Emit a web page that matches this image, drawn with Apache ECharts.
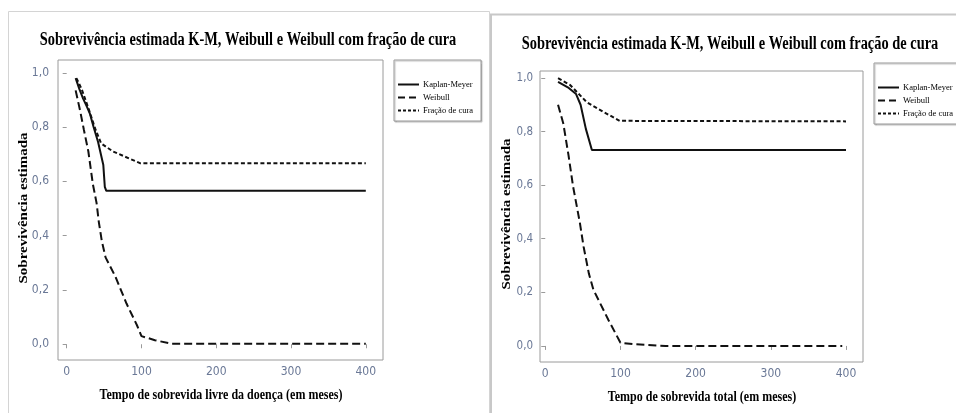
<!DOCTYPE html>
<html>
<head>
<meta charset="utf-8">
<script src="https://cdn.jsdelivr.net/npm/echarts@6/dist/echarts.min.js"></script>
<style>html,body{margin:0;padding:0;background:#fff}#c{width:956px;height:413px}</style>
</head>
<body>
<div id="c"></div>
<script>
// ---- data ----
const titleText = 'Sobrevivência estimada K-M, Weibull e Weibull com fração de cura';
const yName = 'Sobrevivência estimada';
const xNameLeft = 'Tempo de sobrevida livre da doença (em meses)';
const xNameRight = 'Tempo de sobrevida total (em meses)';
const seriesNames = ['Kaplan-Meyer', 'Weibull', 'Fração de cura'];
const xTicks = [0, 100, 200, 300, 400];
const yTicks = [0, 0.2, 0.4, 0.6, 0.8, 1.0];

// Left panel: disease-free survival
const dfsKaplanMeyer = [[12,0.98],[17,0.94],[22,0.905],[27,0.875],[31,0.85],[36,0.80],[42,0.745],[49,0.66],[51,0.58],[53,0.565],[400,0.565]];
const dfsWeibull = [[12,0.935],[18,0.86],[23,0.79],[29,0.71],[35,0.59],[40,0.52],[43,0.45],[47,0.38],[52,0.32],[65,0.25],[80,0.15],[94,0.07],[100,0.03],[118,0.015],[140,0.002],[400,0.002]];
const dfsCure = [[13,0.98],[20,0.94],[29,0.87],[38,0.795],[46,0.74],[62,0.71],[98,0.667],[400,0.667]];

// Right panel: overall survival
const osKaplanMeyer = [[17,0.985],[30,0.965],[41,0.94],[47,0.90],[54,0.81],[62,0.731],[400,0.731]];
const osWeibull = [[17,0.90],[24,0.83],[31,0.71],[37,0.595],[46,0.46],[51,0.37],[58,0.27],[64,0.21],[84,0.097],[100,0.012],[120,0.006],[160,0.0],[395,0.0]];
const osCure = [[17,0.999],[33,0.974],[55,0.91],[77,0.874],[99,0.84],[400,0.838]];

// ---- chart ----
const chart = echarts.init(document.getElementById('c'), null, {renderer: 'canvas'});
const tickFont = '"Liberation Sans Narrow","DejaVu Sans Condensed","Roboto Condensed","Liberation Sans",sans-serif';
const serif = '"Liberation Serif","DejaVu Serif",serif';
const labelColor = '#6a7896';
const frameColor = '#9a9a9a';
const fmt = v => v.toFixed(1).replace('.', ',');

function xAxis(gridIndex, min, max, fs) {
  return {
    type: 'value', gridIndex, min, max,
    axisLine: {show: false}, splitLine: {show: false},
    axisTick: {show: true, length: 4, lineStyle: {color: frameColor}, customValues: xTicks},
    axisLabel: {customValues: xTicks, margin: 6, color: labelColor, fontFamily: tickFont, fontSize: fs, formatter: v => String(v)}
  };
}
function yAxis(gridIndex, min, max, fs, margin) {
  return {
    type: 'value', gridIndex, min, max,
    axisLine: {show: false}, splitLine: {show: false},
    axisTick: {show: true, length: 4, lineStyle: {color: frameColor}, customValues: yTicks},
    axisLabel: {customValues: yTicks, margin, color: labelColor, fontFamily: tickFont, fontSize: fs, formatter: fmt}
  };
}
const styles = [
  {type: 'solid', width: 2},
  {type: [8, 4], width: 2},
  {type: [4, 2.5], width: 2}
];
const legendDash = ['solid', [7, 4], [3, 2]];
function mk(name, data, idx, i) {
  return {
    name, type: 'line', data, xAxisIndex: idx, yAxisIndex: idx,
    symbol: 'none', showSymbol: false, smooth: false, silent: true, animation: false,
    lineStyle: Object.assign({color: '#111'}, styles[i]),
    itemStyle: {color: '#111'}
  };
}
function legend(left, top) {
  return {
    data: seriesNames.map((n, i) => ({
      name: n,
      itemStyle: {color: 'rgba(0,0,0,0)', borderColor: 'rgba(0,0,0,0)', borderWidth: 0},
      lineStyle: {type: legendDash[i], width: 2, color: '#111'}
    })),
    orient: 'vertical', left, top,
    padding: [20, 8, 6, 3], itemGap: 4, itemWidth: 21, itemHeight: 10,
    borderColor: frameColor, borderWidth: 1, backgroundColor: '#fff',
    shadowColor: 'rgba(0,0,0,0.25)', shadowOffsetX: 1, shadowOffsetY: 1, shadowBlur: 1,
    selectedMode: false,
    textStyle: {fontFamily: serif, fontSize: 8.5, color: '#000', padding: [0,0,0,-1]}
  };
}
function text(x, y, str, font, opts) {
  return Object.assign({
    type: 'text', x, y, silent: true,
    style: {text: str, font, fill: '#000', textAlign: 'center', textVerticalAlign: 'middle', align: 'center', verticalAlign: 'middle'}
  }, opts || {});
}

chart.setOption({
  animation: false,
  backgroundColor: '#fff',
  grid: [
    {left: 58, top: 60, width: 325, height: 300, show: true, borderColor: frameColor, borderWidth: 1, backgroundColor: '#fff'},
    {left: 540, top: 71, width: 323, height: 291, show: true, borderColor: frameColor, borderWidth: 1, backgroundColor: '#fff'}
  ],
  xAxis: [xAxis(0, -11.6, 423, 12), xAxis(1, -7, 422.6, 12)],
  yAxis: [yAxis(0, -0.058, 1.047, 12, 9), yAxis(1, -0.06, 1.026, 11.5, 7)],
  legend: [legend(394, 60), legend(874, 63)],
  series: [
    mk(seriesNames[0], dfsKaplanMeyer, 0, 0),
    mk(seriesNames[1], dfsWeibull, 0, 1),
    mk(seriesNames[2], dfsCure, 0, 2),
    mk(seriesNames[0], osKaplanMeyer, 1, 0),
    mk(seriesNames[1], osWeibull, 1, 1),
    mk(seriesNames[2], osCure, 1, 2)
  ],
  graphic: [
    // panel frames
    {type: 'polyline', silent: true, shape: {points: [[8.5, 413], [8.5, 11.5], [489.5, 11.5], [489.5, 413]]}, style: {stroke: '#d4d4d4', lineWidth: 1, fill: null}},
    {type: 'polyline', silent: true, shape: {points: [[491, 413], [491, 14.5], [956, 14.5]]}, style: {stroke: '#c8c8c8', lineWidth: 2, fill: null}},
    // titles
    text(248, 40, titleText, 'bold 18px ' + serif, {scaleX: 0.8}),
    text(730, 44, titleText, 'bold 18px ' + serif, {scaleX: 0.8}),
    // axis names
    text(221, 395, xNameLeft, 'bold 15px ' + serif, {scaleX: 0.8}),
    text(702, 397, xNameRight, 'bold 15px ' + serif, {scaleX: 0.8}),
    text(24, 208, yName, 'bold 15px ' + serif, {rotation: Math.PI / 2, scaleY: 0.8}),
    text(507, 214, yName, 'bold 15px ' + serif, {rotation: Math.PI / 2, scaleY: 0.8}),
    // legend titles
    text(433, 71, 'Legenda', '8.5px ' + serif),
    text(914, 72, 'Legenda', '8.5px ' + serif)
  ]
});
</script>
</body>
</html>
